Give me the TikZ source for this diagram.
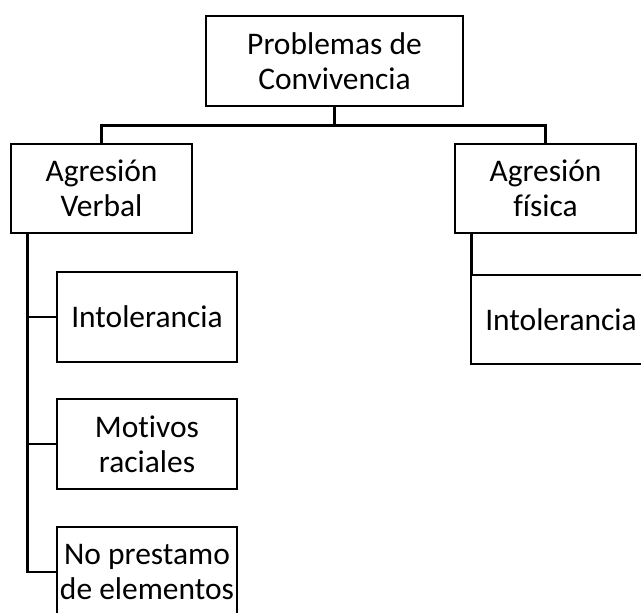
\documentclass[tikz,border=0pt]{standalone}
\usepackage{fontspec}
\setmainfont{Carlito}[Ligatures={NoCommon}]
\usetikzlibrary{calc}
\begin{document}
\begin{tikzpicture}[x=0.75pt,y=-0.75pt,
  box/.style={draw=black,line width=1.9pt,rectangle,inner sep=0pt,align=center,
    font=\fontsize{23.6pt}{26pt}\selectfont,minimum height=67.5pt},
  link/.style={draw=black,line width=1.9pt}]
\clip (0,0) rectangle (641,612);
\node[box,minimum width=192.75pt] (top) at (334.5,61) {Problemas de\\Convivencia};
\node[box,minimum width=135.75pt,minimum height=66.75pt] (av) at (101.5,188.5) {Agresión\\Verbal};
\node[box,minimum width=135.75pt,minimum height=66.75pt] (af) at (545.5,188.5) {Agresión\\física};
\node[box,minimum width=135pt] (c1) at (147,317) {Intolerancia};
\node[box,minimum width=135pt] (c2) at (147,444) {Motivos\\raciales};
\node[box,minimum width=135pt] (c3) at (147,572) {No prestamo\\de elementos};
\node[box,minimum width=135pt,minimum height=66.75pt] (r1) at (561,319.5) {Intolerancia};
\coordinate (bar) at ($(top.south)+(0,18)$);
\draw[link] (top.south) -- (bar) -| (av.north);
\draw[link] (bar) -| (af.north);
\coordinate (tl) at ($(av.south west)+(18,0)$);
\draw[link] (tl) |- (c1.west);
\draw[link] (tl) |- (c2.west);
\draw[link] (tl) |- (c3.west);
\coordinate (tr) at ($(af.south west)+(18,0)$);
\draw[link] (tr) -- (tr |- r1.north);
\end{tikzpicture}
\end{document}
